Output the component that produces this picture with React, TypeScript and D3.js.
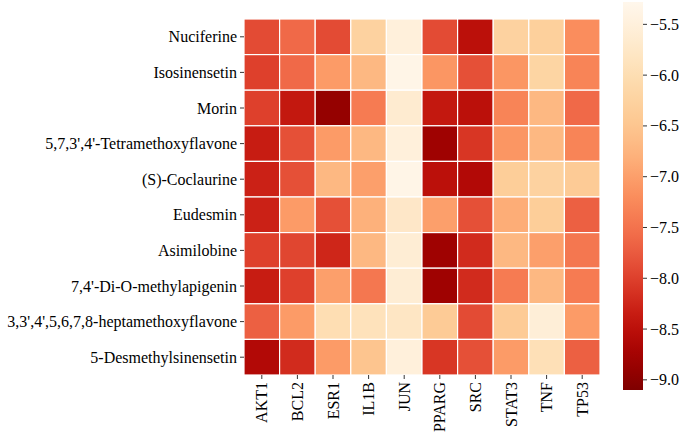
import React from 'react'
import * as d3 from 'd3'

const compounds = [
  'Nuciferine',
  'Isosinensetin',
  'Morin',
  "5,7,3',4'-Tetramethoxyflavone",
  '(S)-Coclaurine',
  'Eudesmin',
  'Asimilobine',
  "7,4'-Di-O-methylapigenin",
  "3,3',4',5,6,7,8-heptamethoxyflavone",
  '5-Desmethylsinensetin'
]

const targets = ['AKT1', 'BCL2', 'ESR1', 'IL1B', 'JUN', 'PPARG', 'SRC', 'STAT3', 'TNF', 'TP53']

// docking scores, one row per compound, columns follow targets
const nuciferine = [-7.9, -7.6, -7.9, -6.25, -5.5, -7.9, -8.5, -6.25, -6.3, -7.2]
const isosinensetin = [-8.0, -7.6, -7.05, -6.7, -5.35, -7.1, -7.85, -7.1, -6.2, -7.3]
const morin = [-8.0, -8.4, -8.9, -7.4, -5.65, -8.4, -8.5, -7.3, -6.7, -7.6]
const tetramethoxyflavone = [-8.35, -7.85, -7.05, -6.7, -5.5, -8.8, -8.1, -7.1, -6.7, -7.3]
const coclaurine = [-8.3, -7.85, -6.7, -7.0, -5.35, -8.5, -8.6, -6.35, -6.25, -6.4]
const eudesmin = [-8.3, -7.05, -7.85, -6.8, -5.75, -7.0, -7.85, -6.85, -6.35, -7.7]
const asimilobine = [-8.0, -7.95, -8.25, -6.7, -5.6, -8.8, -8.2, -6.7, -7.0, -7.45]
const diOMethylapigenin = [-8.35, -8.0, -7.0, -7.45, -5.6, -8.8, -8.2, -7.4, -6.7, -7.4]
const heptamethoxyflavone = [-7.7, -7.05, -6.0, -5.9, -5.8, -6.4, -7.9, -6.4, -5.55, -7.05]
const desmethylsinensetin = [-8.6, -8.2, -7.05, -6.5, -5.5, -8.1, -7.85, -7.05, -5.95, -7.7]

const scores = [
  nuciferine,
  isosinensetin,
  morin,
  tetramethoxyflavone,
  coclaurine,
  eudesmin,
  asimilobine,
  diOMethylapigenin,
  heptamethoxyflavone,
  desmethylsinensetin
]

const colorTicks = [-5.5, -6.0, -6.5, -7.0, -7.5, -8.0, -8.5, -9.0]
const vmin = -9.1
const vmax = -5.28

const W = 684
const H = 437
const grid = { left: 244, top: 19, size: 356 }
const bar = { x: 623, y: 2, w: 20, h: 388 }
const font = '"Liberation Serif", "Times New Roman", serif'
const fs = 16

export default function App() {
  const x = d3.scaleBand<string>().domain(targets).range([grid.left, grid.left + grid.size])
  const y = d3.scaleBand<string>().domain(compounds).range([grid.top, grid.top + grid.size])
  const color = (v: number) => d3.interpolateOrRd((vmax - v) / (vmax - vmin))
  const cy = d3.scaleLinear().domain([vmax, vmin]).range([bar.y, bar.y + bar.h])

  const cells = scores.flatMap((row, i) =>
    row.map((v, j) => ({ r: compounds[i], c: targets[j], v }))
  )
  const stops = d3.range(0, 1.0001, 0.05)
  const fmt = (v: number) => v.toFixed(1).replace('-', '\u2212')

  return (
    <svg width={W} height={H} style={{ position: 'absolute', left: 0, top: 0, background: '#fff' }}>
      <defs>
        <linearGradient id="cbar" x1="0" y1="0" x2="0" y2="1">
          {stops.map(t => (
            <stop key={t} offset={t} stopColor={color(vmax - t * (vmax - vmin))} />
          ))}
        </linearGradient>
      </defs>

      {cells.map(d => (
        <rect
          key={d.r + d.c}
          x={x(d.c)}
          y={y(d.r)}
          width={x.bandwidth()}
          height={y.bandwidth()}
          fill={color(d.v)}
          stroke="#fff"
          strokeWidth={1.2}
        />
      ))}

      {/* row labels */}
      <g fontFamily={font} fontSize={fs} fill="#000">
        {compounds.map(c => {
          const yy = (y(c) ?? 0) + y.bandwidth() / 2
          return (
            <g key={c}>
              <line x1={grid.left - 4} x2={grid.left} y1={yy} y2={yy} stroke="#000" strokeWidth={0.8} />
              <text x={grid.left - 7} y={yy} textAnchor="end" dominantBaseline="central">
                {c}
              </text>
            </g>
          )
        })}
      </g>

      {/* column labels */}
      <g fontFamily={font} fontSize={fs} fill="#000">
        {targets.map(t => {
          const xx = (x(t) ?? 0) + x.bandwidth() / 2
          const yb = grid.top + grid.size
          return (
            <g key={t}>
              <line x1={xx} x2={xx} y1={yb} y2={yb + 4} stroke="#000" strokeWidth={0.8} />
              <text
                transform={`translate(${xx},${yb + 7}) rotate(-90)`}
                textAnchor="end"
                dominantBaseline="central"
              >
                {t}
              </text>
            </g>
          )
        })}
      </g>

      {/* colorbar */}
      <rect x={bar.x} y={bar.y} width={bar.w} height={bar.h} fill="url(#cbar)" />
      <g fontFamily={font} fontSize={fs} fill="#000">
        {colorTicks.map(v => (
          <g key={v}>
            <line x1={bar.x + bar.w} x2={bar.x + bar.w + 4} y1={cy(v)} y2={cy(v)} stroke="#000" strokeWidth={0.8} />
            <text x={bar.x + bar.w + 7} y={cy(v)} dominantBaseline="central">
              {fmt(v)}
            </text>
          </g>
        ))}
      </g>
    </svg>
  )
}
